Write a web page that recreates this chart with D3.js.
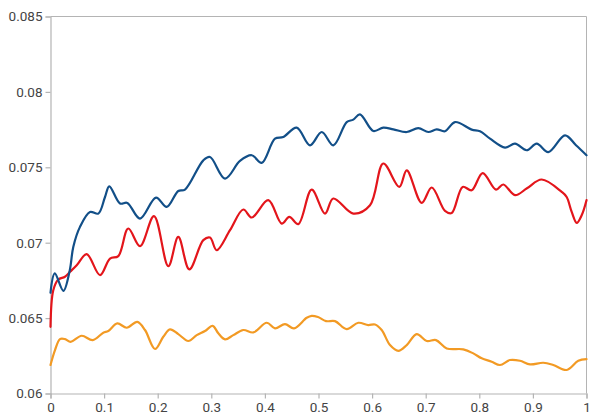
<!DOCTYPE html>
<html><head><meta charset="utf-8">
<script src="https://cdn.jsdelivr.net/npm/d3@7"></script>
<style>body{margin:0;background:#fff}svg{display:block}</style>
</head><body><svg id="c" width="592" height="414"></svg>
<script>
const xTicks = [0,0.1,0.2,0.3,0.4,0.5,0.6,0.7,0.8,0.9,1];
const yTicks = [0.06,0.065,0.07,0.075,0.08,0.085];

const blueX = [0,0.008,0.024,0.036,0.0425,0.055,0.0737,0.0892,0.1017,0.1097,0.1297,0.1433,0.167,0.1968,0.2168,0.2384,0.2509,0.2851,0.2976,0.3256,0.3535,0.3754,0.394,0.4188,0.4343,0.4593,0.4841,0.506,0.5276,0.5526,0.5649,0.5774,0.6022,0.6209,0.6396,0.6646,0.6862,0.7049,0.7205,0.736,0.7547,0.7858,0.8013,0.82,0.848,0.8666,0.8884,0.9071,0.9287,0.9599,0.9804,1];
const blueY = [0.06668,0.06796,0.06681,0.06818,0.06972,0.07105,0.07204,0.07193,0.07303,0.07374,0.0726,0.07264,0.0716,0.07299,0.07237,0.07343,0.07352,0.07546,0.07568,0.07425,0.07542,0.0758,0.07529,0.0769,0.07701,0.07763,0.07646,0.07734,0.07646,0.078,0.07816,0.07851,0.07741,0.07763,0.07752,0.07734,0.0776,0.07734,0.07752,0.07739,0.078,0.0775,0.07739,0.0769,0.07631,0.07657,0.07613,0.07657,0.07601,0.07712,0.07646,0.0758];

const redX = [0,0.0052,0.0146,0.027,0.0364,0.0489,0.0675,0.0924,0.111,0.1265,0.1451,0.167,0.1931,0.2198,0.2384,0.259,0.2851,0.2976,0.31,0.3349,0.3597,0.3754,0.4063,0.4313,0.4455,0.4623,0.4873,0.5121,0.5276,0.5649,0.5961,0.6209,0.6507,0.6646,0.6925,0.7112,0.736,0.7485,0.769,0.7858,0.8063,0.8312,0.8448,0.8666,0.889,0.9164,0.9537,0.963,0.9724,0.9817,0.991,1];
const redY = [0.06442,0.06685,0.06756,0.06774,0.06807,0.06851,0.06924,0.06785,0.06895,0.06911,0.07094,0.06977,0.07176,0.06844,0.07038,0.06823,0.07017,0.07034,0.0695,0.07083,0.0722,0.07167,0.07282,0.07127,0.07171,0.07123,0.07352,0.07193,0.07293,0.07193,0.07248,0.07525,0.0737,0.0748,0.07264,0.07366,0.07211,0.07197,0.0737,0.07348,0.07462,0.07352,0.07386,0.07315,0.07361,0.07419,0.07337,0.07303,0.07204,0.07131,0.07182,0.07282];

const orangeX = [0,0.0084,0.0177,0.027,0.0377,0.0582,0.0787,0.0985,0.1078,0.1246,0.1422,0.1619,0.1763,0.195,0.2104,0.2229,0.2384,0.2571,0.2728,0.2882,0.3026,0.3131,0.3256,0.341,0.3597,0.3784,0.4034,0.4188,0.4375,0.4543,0.478,0.4873,0.499,0.514,0.5308,0.5526,0.5743,0.5929,0.6054,0.6179,0.6334,0.6489,0.6646,0.6832,0.7019,0.7192,0.7392,0.7701,0.7888,0.8045,0.8231,0.8386,0.8573,0.8759,0.8946,0.9194,0.938,0.963,0.9847,1];
const orangeY = [0.06189,0.06288,0.06361,0.06361,0.06343,0.06383,0.06354,0.06403,0.06414,0.06465,0.06436,0.06475,0.06421,0.06295,0.06376,0.06425,0.06394,0.06348,0.06387,0.06414,0.06449,0.06399,0.06359,0.06387,0.06421,0.06405,0.06469,0.06432,0.0646,0.06432,0.06502,0.06515,0.06507,0.0648,0.0648,0.06427,0.06469,0.06454,0.06458,0.06421,0.06321,0.06283,0.06321,0.06394,0.06348,0.06354,0.06299,0.06293,0.06266,0.06233,0.06211,0.06189,0.06222,0.06217,0.06193,0.06204,0.06189,0.06156,0.06217,0.06228];

const series = [
  {xs: orangeX, ys: orangeY, color: "#f29a24"},
  {xs: redX, ys: redY, color: "#e3151b"},
  {xs: blueX, ys: blueY, color: "#124f88"}
];

const svg = d3.select("#c");
const L = 50.5, R = 586.5, T = 16.5, B = 393.5;
const x = d3.scaleLinear().domain([0,1]).range([L,R]);
const y = d3.scaleLinear().domain([0.06,0.085]).range([B,T]);
const axisColor = "#b4b4b4", textColor = "#444";

// frame top and right
svg.append("line").attr("x1",L).attr("x2",R).attr("y1",T).attr("y2",T).attr("stroke",axisColor);
svg.append("line").attr("x1",R).attr("x2",R).attr("y1",T).attr("y2",B).attr("stroke",axisColor);

const xa = svg.append("g").attr("transform",`translate(0,${B})`)
  .call(d3.axisBottom(x).tickValues(xTicks).tickFormat(d=>String(d)).tickSize(5).tickPadding(4));
const ya = svg.append("g").attr("transform",`translate(${L},0)`)
  .call(d3.axisLeft(y).tickValues(yTicks).tickFormat(d=>String(+d.toFixed(3))).tickSize(5).tickPadding(3));
[xa,ya].forEach(g=>{
  g.selectAll("path,line").attr("stroke",axisColor).attr("stroke-width",1.2);
  g.selectAll("text").attr("fill",textColor).style("font-family","Roboto, 'Liberation Sans', sans-serif").style("font-size","13.5px");
});

const line = d3.line().curve(d3.curveCatmullRom.alpha(0.5)).x(d=>x(d[0])).y(d=>y(d[1]));
series.forEach(s=>{
  svg.append("path").datum(s.xs.map((v,i)=>[v,s.ys[i]]))
    .attr("d",line).attr("fill","none").attr("stroke",s.color)
    .attr("stroke-width",2.2).attr("stroke-linejoin","round").attr("stroke-linecap","round");
});
</script></body></html>
